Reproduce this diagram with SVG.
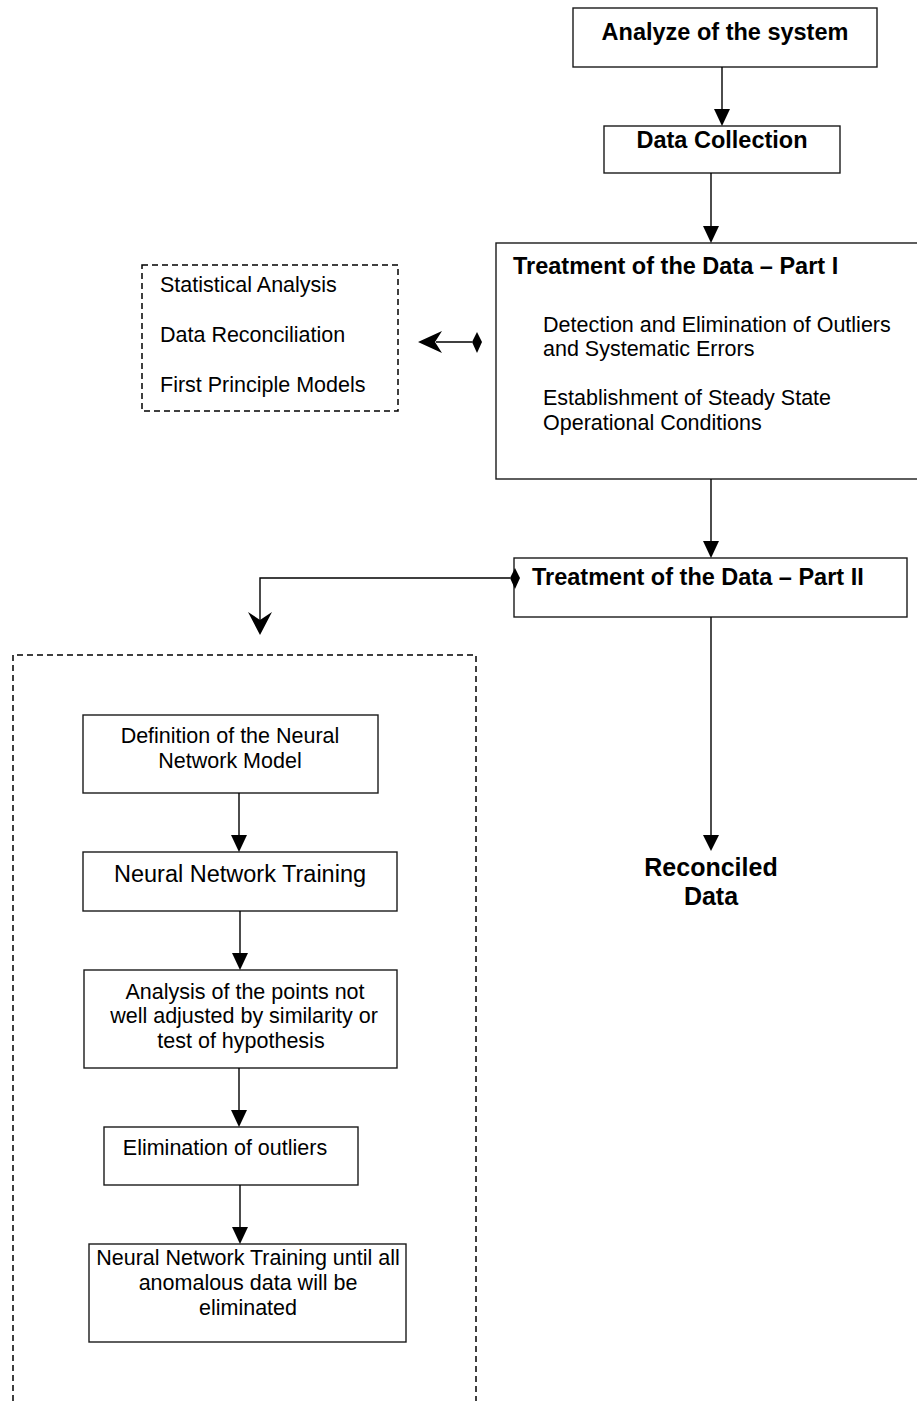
<svg xmlns="http://www.w3.org/2000/svg" width="917" height="1401" viewBox="0 0 917 1401">
<style>
  .box { fill: #fff; stroke: #1a1a1a; stroke-width: 1.4; }
  .dash { fill: none; stroke: #000; stroke-width: 1.5; stroke-dasharray: 6 4; }
  .ln { fill: none; stroke: #000; stroke-width: 1.4; }
  .head { fill: #000; }
  .t { font-family: "Liberation Sans", Arial, sans-serif; font-size: 21.5px; fill: #000; }
  .b { font-family: "Liberation Sans", Arial, sans-serif; font-size: 23.5px; font-weight: bold; fill: #000; }
  .c { text-anchor: middle; }
</style>
<rect width="917" height="1401" fill="#fff"/>

<g id="analyze">
  <rect class="box" x="573" y="8" width="304" height="59"/>
  <text class="b c" x="725" y="40">Analyze of the system</text>
</g>

<g id="data-collection">
  <rect class="box" x="604" y="126" width="236" height="47"/>
  <text class="b c" x="722" y="148">Data Collection</text>
</g>

<g id="part1">
  <rect class="box" x="496" y="243" width="430" height="236"/>
  <text class="b" x="513" y="274">Treatment of the Data – Part I</text>
  <text class="t" x="543" y="332">Detection and Elimination of Outliers</text>
  <text class="t" x="543" y="356">and Systematic Errors</text>
  <text class="t" x="543" y="405">Establishment of Steady State</text>
  <text class="t" x="543" y="430">Operational Conditions</text>
</g>

<g id="methods">
  <rect class="dash" x="142" y="265" width="256" height="146"/>
  <text class="t" x="160" y="292">Statistical Analysis</text>
  <text class="t" x="160" y="342">Data Reconciliation</text>
  <text class="t" x="160" y="392">First Principle Models</text>
</g>

<g id="part2">
  <rect class="box" x="514" y="558" width="393" height="59"/>
  <text class="b" x="532" y="585">Treatment of the Data – Part II</text>
</g>

<g id="reconciled">
  <text class="b c" x="711" y="876" style="font-size:25px">Reconciled</text>
  <text class="b c" x="711" y="905" style="font-size:25px">Data</text>
</g>

<g id="nn-group">
  <path class="dash" d="M13,1401 L13,655 L476,655 L476,1401"/>
</g>

<g id="definition">
  <rect class="box" x="83" y="715" width="295" height="78"/>
  <text class="t c" x="230" y="743">Definition of the Neural</text>
  <text class="t c" x="230" y="768">Network Model</text>
</g>

<g id="training">
  <rect class="box" x="83" y="852" width="314" height="59"/>
  <text class="t c" x="240" y="882" style="font-size:23.5px">Neural Network Training</text>
</g>

<g id="analysis">
  <rect class="box" x="84" y="970" width="313" height="98"/>
  <text class="t c" x="245" y="999">Analysis of the points not</text>
  <text class="t c" x="244" y="1023">well adjusted by similarity or</text>
  <text class="t c" x="241" y="1048">test of hypothesis</text>
</g>

<g id="elimination">
  <rect class="box" x="104" y="1127" width="254" height="58"/>
  <text class="t c" x="225" y="1155">Elimination of outliers</text>
</g>

<g id="final-training">
  <rect class="box" x="89" y="1244" width="317" height="98"/>
  <text class="t c" x="248" y="1265">Neural Network Training until all</text>
  <text class="t c" x="248" y="1290">anomalous data will be</text>
  <text class="t c" x="248" y="1315">eliminated</text>
</g>

<g id="connectors">
  <line class="ln" x1="722" y1="67" x2="722" y2="109"/>
  <path class="head" d="M714,109 L730,109 L722,126 Z"/>
  <line class="ln" x1="711" y1="173" x2="711" y2="226"/>
  <path class="head" d="M703,226 L719,226 L711,243 Z"/>
  <line class="ln" x1="711" y1="479" x2="711" y2="541"/>
  <path class="head" d="M703,541 L719,541 L711,558 Z"/>
  <line class="ln" x1="711" y1="617" x2="711" y2="835"/>
  <path class="head" d="M703,835 L719,835 L711,851 Z"/>
  <line class="ln" x1="436" y1="342" x2="472" y2="342"/>
  <path class="head" d="M418,342 L442,331 L435,342 L442,353 Z"/>
  <path class="head" d="M477,332 L482,342 L477,353 L472,342 Z"/>
  <polyline class="ln" points="510,578 260,578 260,620"/>
  <path class="head" d="M260,635 L248,612 L260,620 L272,612 Z"/>
  <path class="head" d="M515,568 L520,578 L515,589 L510,578 Z"/>
  <line class="ln" x1="239" y1="793" x2="239" y2="835"/>
  <path class="head" d="M231,835 L247,835 L239,852 Z"/>
  <line class="ln" x1="240" y1="911" x2="240" y2="953"/>
  <path class="head" d="M232,953 L248,953 L240,970 Z"/>
  <line class="ln" x1="239" y1="1068" x2="239" y2="1110"/>
  <path class="head" d="M231,1110 L247,1110 L239,1127 Z"/>
  <line class="ln" x1="240" y1="1185" x2="240" y2="1227"/>
  <path class="head" d="M232,1227 L248,1227 L240,1244 Z"/>
</g>
</svg>
